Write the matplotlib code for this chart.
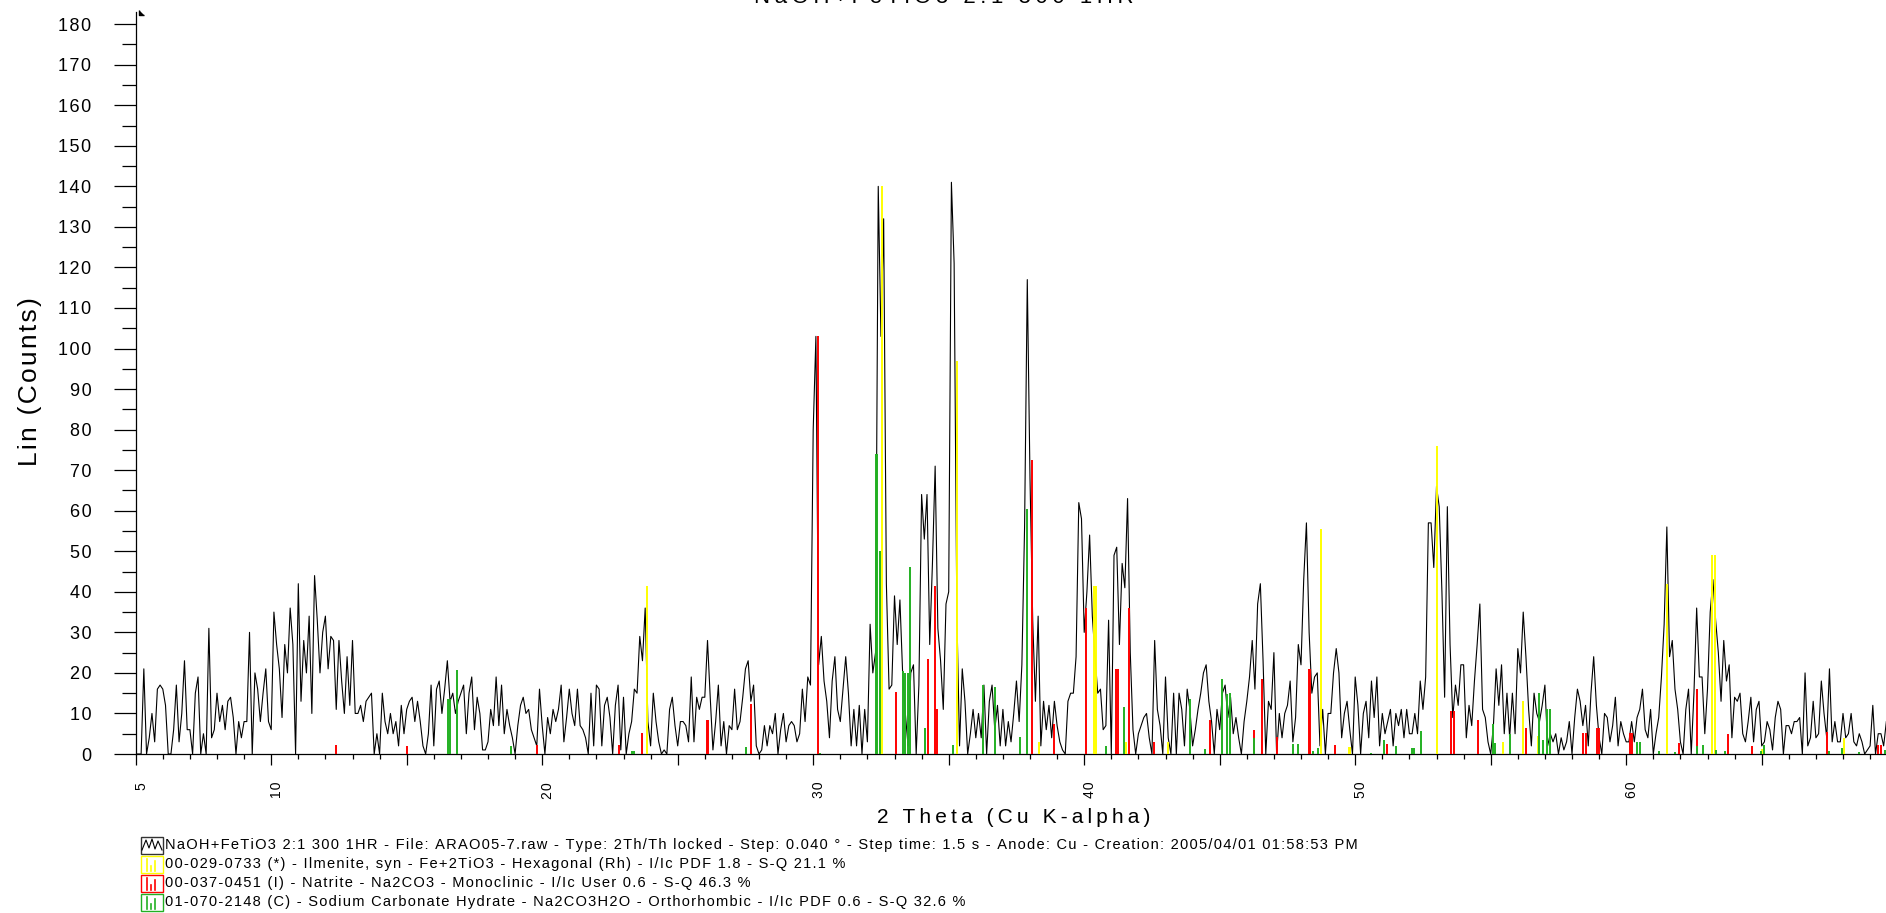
import numpy as np
import matplotlib
matplotlib.use('Agg')
import matplotlib.pyplot as plt
from matplotlib.patches import Rectangle
from matplotlib.ticker import FixedLocator, FuncFormatter
from matplotlib.transforms import ScaledTranslation

plt.rcParams['font.family'] = ['Liberation Sans', 'DejaVu Sans']

# scan: 2-theta from 5.0 deg, 0.1 deg per value
two_theta_start = 5.0
two_theta_step = 0.1
counts = [
    0, 0, 0, 21, 0, 4, 10, 3, 16, 17,          # 5
    16, 12, 0, 0, 6, 17, 3, 10, 23, 6,         # 6
    6, 0, 15, 19, 0, 5, 0, 31, 4, 6,           # 7
    15, 8, 12, 6, 13, 14, 9, 0, 8, 4,          # 8
    8, 8, 30, 0, 20, 16, 8, 15, 21, 8,         # 9
    6, 35, 27, 21, 9, 27, 20, 36, 27, 0,       # 10
    42, 13, 28, 20, 34, 10, 44, 33, 20, 30,    # 11
    34, 21, 29, 28, 11, 28, 18, 10, 24, 12,    # 12
    28, 10, 10, 12, 8, 13, 14, 15, 0, 5,       # 13
    0, 15, 8, 5, 10, 5, 8, 2, 12, 5,           # 14
    11, 13, 14, 8, 13, 8, 2, 0, 5, 17,         # 15
    2, 16, 18, 10, 16, 23, 13, 15, 10, 13,     # 16
    15, 17, 5, 15, 19, 6, 14, 10, 1, 1,        # 17
    3, 11, 7, 19, 7, 17, 5, 11, 7, 4,          # 18
    0, 7, 12, 14, 10, 11, 6, 4, 2, 16,         # 19
    7, 0, 9, 5, 11, 8, 11, 17, 3, 9,           # 20
    16, 10, 7, 16, 7, 6, 4, 0, 15, 2,          # 21
    17, 16, 2, 12, 14, 9, 0, 12, 17, 1,        # 22
    14, 0, 5, 8, 16, 15, 29, 23, 36, 8,        # 23
    2, 15, 8, 3, 0, 1, 0, 11, 14, 7,           # 24
    2, 8, 8, 7, 3, 19, 3, 14, 11, 14,          # 25
    14, 28, 14, 1, 8, 17, 2, 8, 0, 7,          # 26
    6, 16, 6, 8, 14, 21, 23, 13, 17, 2,        # 27
    0, 1, 7, 2, 7, 5, 10, 0, 6, 10,            # 28
    3, 7, 8, 7, 3, 5, 16, 8, 19, 17,           # 29
    80, 103, 22, 29, 18, 13, 4, 18, 24, 11,    # 30
    8, 16, 24, 15, 2, 11, 2, 12, 0, 11,        # 31
    3, 32, 20, 25, 140, 103, 132, 42, 16, 17,  # 32
    39, 27, 38, 20, 10, 2, 20, 22, 0, 17,      # 33
    64, 53, 64, 27, 47, 71, 31, 23, 11, 37,    # 34
    40, 141, 121, 35, 2, 21, 13, 0, 5, 11,     # 35
    4, 10, 4, 17, 0, 13, 17, 6, 12, 2,         # 36
    11, 2, 8, 3, 10, 18, 8, 22, 56, 117,       # 37
    68, 33, 13, 34, 2, 13, 6, 12, 4, 13,       # 38
    7, 3, 1, 0, 13, 15, 15, 24, 62, 58,        # 39
    30, 40, 54, 34, 24, 15, 16, 6, 7, 33,      # 40
    0, 49, 51, 27, 47, 41, 63, 25, 6, 0,       # 41
    5, 7, 9, 10, 4, 0, 28, 11, 7, 0,           # 42
    19, 4, 0, 15, 0, 15, 11, 2, 16, 11,        # 43
    2, 6, 11, 15, 20, 22, 13, 8, 0, 11,        # 44
    6, 15, 17, 9, 14, 5, 9, 4, 0, 8,           # 45
    13, 19, 28, 16, 37, 42, 23, 0, 13, 11,     # 46
    25, 0, 10, 4, 10, 12, 18, 3, 9, 27,        # 47
    22, 43, 57, 30, 15, 19, 20, 2, 11, 0,      # 48
    10, 10, 20, 26, 20, 4, 10, 13, 6, 0,       # 49
    19, 12, 0, 10, 13, 4, 18, 9, 19, 2,        # 50
    10, 5, 8, 11, 2, 10, 7, 11, 4, 11,         # 51
    5, 5, 10, 5, 18, 11, 19, 57, 57, 46,       # 52
    66, 61, 40, 14, 61, 27, 9, 17, 12, 22,     # 53
    22, 4, 12, 7, 18, 27, 37, 11, 9, 3,        # 54
    0, 7, 21, 12, 22, 5, 15, 4, 15, 5,         # 55
    26, 20, 35, 24, 11, 2, 15, 10, 8, 12,      # 56
    17, 2, 5, 3, 5, 0, 4, 1, 3, 8,             # 57
    0, 9, 16, 13, 7, 12, 2, 15, 24, 12,        # 58
    4, 0, 10, 9, 3, 7, 14, 2, 8, 5,            # 59
    3, 3, 8, 3, 9, 11, 16, 6, 4, 11,           # 60
    0, 5, 9, 19, 32, 56, 24, 28, 16, 11,       # 61
    3, 0, 11, 16, 0, 15, 36, 19, 19, 5,        # 62
    16, 35, 43, 33, 25, 13, 28, 18, 22, 4,     # 63
    14, 13, 15, 5, 3, 8, 14, 3, 11, 13,        # 64
    2, 3, 8, 6, 1, 9, 13, 11, 0, 7,            # 65
    7, 5, 8, 8, 9, 0, 20, 2, 4, 13,            # 66
    4, 5, 18, 10, 4, 21, 3, 8, 3, 3,           # 67
    10, 4, 5, 10, 3, 2, 5, 3, 0, 1,            # 68
    2, 12, 0, 5, 5, 2, 8,                      # 69
]

# reference patterns (stick positions / heights)
ilmenite_pos = [23.86, 32.55, 35.30, 38.33, 40.35, 40.42, 41.55, 43.10, 48.72,
                49.76, 49.82, 53.00, 55.45, 56.19, 56.75, 61.50, 63.18, 63.27,
                65.02, 68.03]
ilmenite_int = [41.5, 140, 97, 3, 41.5, 41.5, 3, 3, 55.5,
                1.8, 1.8, 76, 3, 13, 4.5, 42, 49, 49,
                1.2, 4]

natrite_pos = [12.39, 15.00, 19.82, 22.85, 23.67, 26.07, 26.13, 27.70, 30.17,
               33.05, 34.22, 34.50, 34.58, 38.07, 38.90, 40.05, 41.18, 41.26,
               41.65, 42.56, 44.63, 46.28, 46.55, 47.10, 48.29, 48.35, 49.27,
               51.18, 53.55, 53.63, 54.53, 56.30, 58.40, 58.50, 58.94, 59.00,
               60.13, 60.20, 61.95, 62.60, 63.74, 64.66, 67.40, 69.30, 69.40]
natrite_int = [2.1, 2, 2.3, 2.3, 5.2, 8.3, 8.3, 12.4, 103,
               15.4, 23.4, 41.5, 11, 72.5, 7.3, 36, 21, 21,
               36, 3, 8.5, 6, 18.5, 4.2, 21, 21, 2.2,
               2.5, 10.5, 10.5, 8.5, 6.3, 5.3, 5.3, 6.3, 6.3,
               5.3, 5.3, 2.6, 16, 5, 2, 5.4, 2.3, 2.3]

hydrate_pos = [16.52, 16.60, 16.87, 18.84, 23.30, 23.40, 27.51, 30.25, 32.31,
               32.37, 32.47, 33.30, 33.38, 33.48, 33.58, 34.14, 35.15, 36.26,
               36.72, 37.64, 37.89, 40.80, 41.46, 43.90, 44.45, 45.10, 45.27,
               45.37, 46.26, 47.71, 47.90, 48.44, 48.62, 50.60, 51.07, 51.52,
               52.10, 52.17, 52.44, 55.10, 55.17, 55.70, 56.80, 56.93, 57.08,
               57.20, 60.41, 60.50, 61.20, 61.80, 62.63, 62.82, 63.30, 63.65,
               64.96, 65.10, 67.47, 67.95, 68.58, 69.55]
hydrate_int = [13.6, 13.6, 20.7, 2, 0.8, 0.8, 1.7, 0.3, 74,
               74, 50, 20.5, 20, 20, 46, 6.5, 2.2, 17,
               16.5, 4.2, 60.5, 2, 11.5, 13.5, 1.3, 18.5, 14.8,
               15, 4, 2.5, 2.5, 0.8, 1.6, 0.3, 3.5, 2,
               1.5, 1.5, 5.6, 7.5, 2.8, 5, 15, 3.5, 11,
               11, 3, 3, 0.8, 0.5, 2, 2.3, 1, 0.8,
               0.8, 2.2, 0.8, 1.5, 0.6, 1]

legend_texts = [
    "NaOH+FeTiO3 2:1 300 1HR - File: ARAO05-7.raw - Type: 2Th/Th locked - Step: 0.040 \u00b0 - "
    "Step time: 1.5 s - Anode: Cu - Creation: 2005/04/01 01:58:53 PM",
    "00-029-0733 (*) - Ilmenite, syn - Fe+2TiO3 - Hexagonal (Rh) - I/Ic PDF 1.8 - S-Q 21.1 %",
    "00-037-0451 (I) - Natrite - Na2CO3 - Monoclinic - I/Ic User 0.6 - S-Q 46.3 %",
    "01-070-2148 (C) - Sodium Carbonate Hydrate - Na2CO3H2O - Orthorhombic - I/Ic PDF 0.6 - S-Q 32.6 %",
]
legend_colors = ['black', '#ffff00', '#ff0000', '#22b022']

HAIR = '\u200a'
THIN = '\u2009'


def spaced(s, sp=HAIR):
    # the instrument export draws its text letter-spaced
    return sp.join(s)


W, H = 1886, 913
two_theta = two_theta_start + two_theta_step * np.arange(len(counts))

fig = plt.figure(figsize=(W / 100, H / 100), dpi=100)
x0, y0 = 135.7, 754
ax = fig.add_axes([x0 / W, (H - y0) / H, (W - x0) / W, (y0 - 12) / H])

ax.plot(two_theta, counts, color='black', lw=0.8, zorder=2)
ax.vlines(ilmenite_pos, 0, ilmenite_int, colors='#ffff00', lw=1.4, zorder=3)
ax.vlines(natrite_pos, 0, natrite_int, colors='#ff0000', lw=1.4, zorder=3)
ax.vlines(hydrate_pos, 0, hydrate_int, colors='#22b022', lw=1.4, zorder=3)

ax.set_xlim(5, 5 + (W - x0) / 27.1)
ax.set_ylim(0, 183)

for s in ['top', 'right']:
    ax.spines[s].set_visible(False)
for s in ['left', 'bottom']:
    ax.spines[s].set_linewidth(0.9)

# y axis ticks
ax.yaxis.set_major_locator(FixedLocator(np.arange(0, 181, 10)))
ax.yaxis.set_minor_locator(FixedLocator(np.arange(5, 180, 10)))
ax.yaxis.set_major_formatter(FuncFormatter(lambda v, p: spaced('%d' % v)))
ax.tick_params(axis='y', which='major', length=16, width=0.9, pad=16, labelsize=13)
ax.tick_params(axis='y', which='minor', length=10, width=0.9)

# x axis ticks: long every 5, short every 1, labels at 5, 10, 20...
ax.xaxis.set_major_locator(FixedLocator(np.arange(5, 70, 5)))
ax.xaxis.set_minor_locator(FixedLocator(np.arange(6, 70, 1)))
ax.xaxis.set_major_formatter(FuncFormatter(
    lambda v, p: spaced('%d' % v) if (v == 5 or v % 10 == 0) else ''))
ax.tick_params(axis='x', which='major', length=8, width=0.9, pad=12, labelsize=10,
               labelrotation=90)
ax.tick_params(axis='x', which='minor', length=3.5, width=0.9)
shift = ScaledTranslation(6 / 100, 0, fig.dpi_scale_trans)
for lab in ax.get_xticklabels():
    lab.set_transform(lab.get_transform() + shift)

# small arrow head at the top of the y axis
ax.plot([5.12], [182.3], marker=[(0, 1), (0, 0), (1, 0)], ms=7, color='black',
        clip_on=False, zorder=5)


def fx(px):
    return px / W


def fy(py):
    return 1 - py / H


# title, mostly cut off at the top edge (as in the export)
fig.text(fx(944), fy(3), spaced("NaOH+FeTiO3 2:1 300 1HR", THIN), ha='center',
         va='baseline', fontsize=16)
fig.text(fx(1014), fy(817), spaced("2 Theta (Cu K-alpha)", THIN), ha='center',
         va='center', fontsize=15)
fig.text(fx(30), fy(382), spaced("Lin (Counts)"), ha='center', va='center',
         rotation=90, fontsize=19)

# legend block below the x axis
for i, (txt, col) in enumerate(zip(legend_texts, legend_colors)):
    cy = 845 + 19 * i
    bx, bw, bh = 141, 22, 17
    fig.patches.append(Rectangle((fx(bx), fy(cy + bh / 2)), bw / W, bh / H,
                                 transform=fig.transFigure, fill=False,
                                 edgecolor=col if i else '#333333', lw=1.0))
    if i == 0:
        zx = [bx + 1, bx + 5, bx + 8, bx + 11, bx + 14, bx + 17, bx + 21]
        zy = [cy + 5, cy - 5, cy + 3, cy - 6, cy + 4, cy - 4, cy + 5]
        fig.lines.append(plt.Line2D([fx(v) for v in zx], [fy(v) for v in zy],
                                    transform=fig.transFigure, color='black', lw=0.8))
    else:
        for sx, sh in [(bx + 6, 12), (bx + 10, 5), (bx + 14, 10)]:
            fig.lines.append(plt.Line2D([fx(sx), fx(sx)], [fy(cy + 7), fy(cy + 7 - sh)],
                                        transform=fig.transFigure, color=col, lw=1.2))
    fig.text(fx(bx + bw + 2), fy(cy), spaced(txt), ha='left', va='center',
             fontsize=10.5)

fig.savefig('out.png', dpi=100)
